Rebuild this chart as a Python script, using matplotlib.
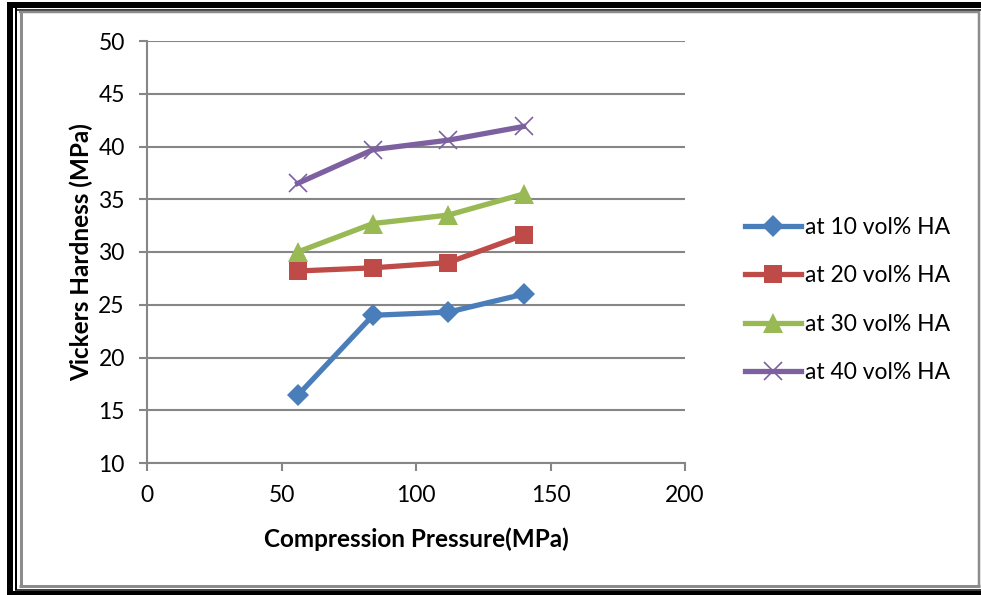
import matplotlib
matplotlib.use("Agg")
import matplotlib.pyplot as plt
from matplotlib.lines import Line2D

# ---------------- data ----------------
pressure = [56, 84, 112, 140]
hv_10 = [16.4, 24.0, 24.3, 26.0]
hv_20 = [28.2, 28.5, 29.0, 31.6]
hv_30 = [30.0, 32.7, 33.5, 35.5]
hv_40 = [36.5, 39.7, 40.6, 41.9]
labels = ["at 10 vol% HA", "at 20 vol% HA", "at 30 vol% HA", "at 40 vol% HA"]

xticks = [0, 50, 100, 150, 200]
yticks = [10, 15, 20, 25, 30, 35, 40, 45, 50]

plt.rcParams["font.family"] = ["Lato", "DejaVu Sans"]

W, H = 981, 595
fig = plt.figure(figsize=(W / 100, H / 100), dpi=100)

L, R, B, T = 147, 685, 463, 41
ax = fig.add_axes([L / W, 1 - B / H, (R - L) / W, (B - T) / H])

GRAY = "#868686"
series = [
    (hv_10, "#4A7EBB", "D", 11),
    (hv_20, "#BE4B48", "s", 13),
    (hv_30, "#98B954", "^", 14),
    (hv_40, "#7D60A0", "x", 13),
]
for (vals, col, mk, ms), lab in zip(series, labels):
    kw = dict(markeredgewidth=1.2) if mk == "x" else dict(markeredgewidth=0)
    ax.plot(pressure, vals, color=col, lw=3.8, marker=mk, ms=ms,
            markerfacecolor=col, markeredgecolor=col, label=lab, **kw)

ax.set_xlim(0, 200)
ax.set_ylim(10, 50)
ax.set_xticks(xticks)
ax.set_yticks(yticks)
ax.yaxis.grid(True, color=GRAY, lw=1.5)
ax.set_axisbelow(True)
for s in ["top", "right"]:
    ax.spines[s].set_visible(False)
for s in ["left", "bottom"]:
    ax.spines[s].set_color(GRAY)
    ax.spines[s].set_linewidth(1.5)
ax.tick_params(axis="both", colors=GRAY, labelcolor="black", labelsize=16.5,
               length=6, width=1.5, pad=10)

ax.set_xlabel("Compression Pressure(MPa)", fontsize=17.5, fontweight="bold", labelpad=15)
ax.set_ylabel("Vickers Hardness (MPa)", fontsize=17.5, fontweight="bold", labelpad=4)

fig.legend(loc="center left", bbox_to_anchor=(745 / W, 1 - 300 / H), frameon=False,
           fontsize=16.5, handlelength=2.45, handletextpad=0.15, labelspacing=1.2,
           borderpad=0, borderaxespad=0)

# ---------------- frame ----------------
def fline(x0, y0, x1, y1, lw, col):
    fig.add_artist(Line2D([x0 / W, x1 / W], [1 - y0 / H, 1 - y1 / H],
                          transform=fig.transFigure, color=col, lw=lw * 0.72,
                          solid_capstyle="butt"))

# outer thick black
fline(10, 2, 10, 595, 6, "black")
fline(7, 5, 981, 5, 6, "black")
fline(7, 592.5, 981, 592.5, 5, "black")
# thin black
fline(16, 8, 16, 590, 2, "black")
fline(15, 10, 981, 10, 1.5, "black")
fline(15, 589.5, 981, 589.5, 1.5, "black")
# grey inner
fline(20.5, 12, 20.5, 587, 3, "#8c8c8c")
fline(19, 12, 980, 12, 2.5, "#8c8c8c")
fline(19, 586, 980, 586, 3, "#8c8c8c")
fline(979, 11, 979, 587, 2.5, "#8c8c8c")

fig.savefig("out.png", dpi=100)
